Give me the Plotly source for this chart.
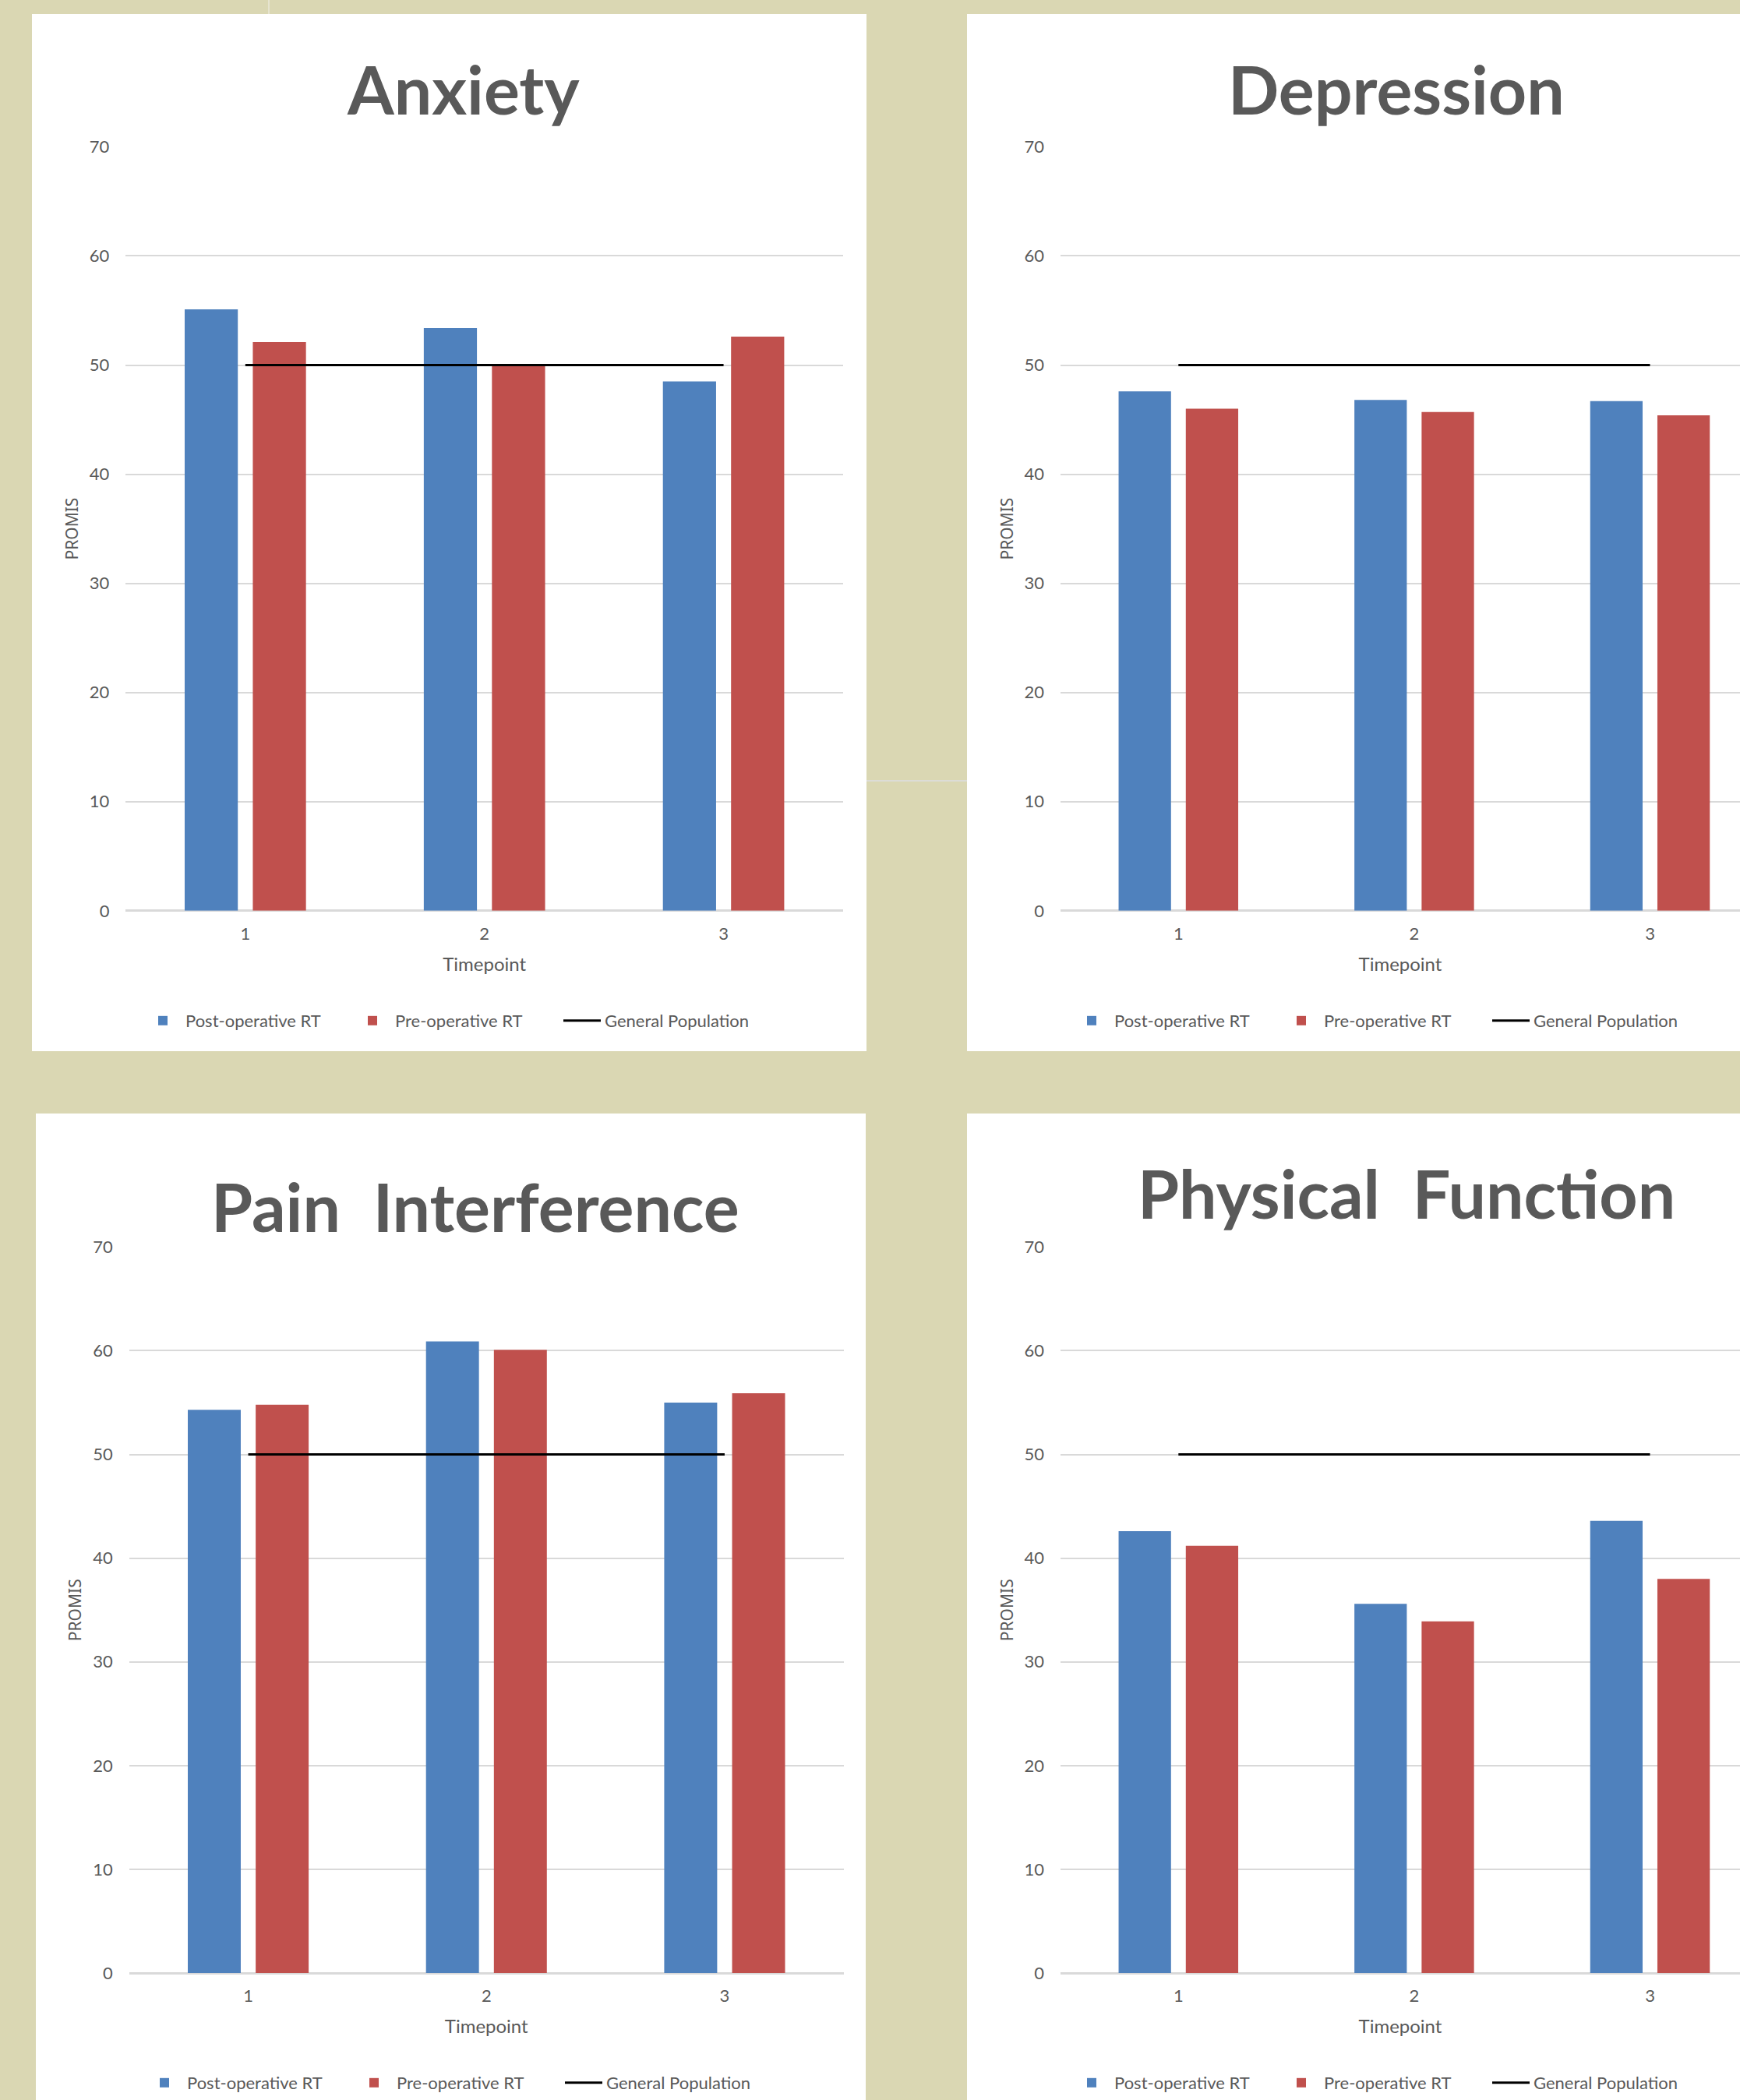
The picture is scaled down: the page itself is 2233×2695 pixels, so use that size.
import plotly.graph_objects as go

W, H = 2233, 2695

# ---------------- data ----------------
timepoints = [1, 2, 3]
tick_labels = ["1", "2", "3"]
series_names = ["Post-operative RT", "Pre-operative RT", "General Population"]

anxiety_post = [55.1, 53.4, 48.5]
anxiety_pre = [52.1, 50.0, 52.6]
depression_post = [47.6, 46.8, 46.7]
depression_pre = [46.0, 45.7, 45.4]
pain_post = [54.3, 60.9, 55.0]
pain_pre = [54.8, 60.1, 55.9]
physical_post = [42.6, 35.6, 43.6]
physical_pre = [41.2, 33.9, 38.0]
general_population = [50, 50, 50]

panel_titles = ["Anxiety", "Depression", "Pain  Interference", "Physical  Function"]
y_ticks = [0, 10, 20, 30, 40, 50, 60, 70]
x_title = "Timepoint"
y_title = "PROMIS"

# ---------------- style ----------------
BG = "#DAD7B3"
BLUE = "#4F81BD"
RED = "#C0504D"
TXT = "#595959"
GRID = "#D9D9D9"
FONT = "Lato"


def px(x):
    return x / W


def py(y):
    return 1 - y / H


# pixel geometry of each panel (white box, plot area, title, legend start)
panels = [
    dict(box=(41, 18, 1112, 1349), plot_x=(161.4, 1082.0), plot_y=(188.4, 1168.8),
         xr=[0.5, 3.5], title_xy=(594, 113), legend_xy=(180, 1310),
         post=anxiety_post, pre=anxiety_pre),
    dict(box=(1241, 18, 2233, 1349), plot_x=(1361.0, 2233.0), plot_y=(188.4, 1168.8),
         xr=[0.5, 0.5 + (2233 - 1361.0) / 302.6], title_xy=(1792, 113), legend_xy=(1372, 1310),
         post=depression_post, pre=depression_pre),
    dict(box=(46, 1429, 1111, 2695), plot_x=(165.7, 1082.8), plot_y=(1600.4, 2532.0),
         xr=[0.5, 3.5], title_xy=(610, 1547), legend_xy=(182, 2673),
         post=pain_post, pre=pain_pre),
    dict(box=(1241, 1429, 2233, 2695), plot_x=(1361.0, 2233.0), plot_y=(1600.4, 2532.0),
         xr=[0.5, 0.5 + (2233 - 1361.0) / 302.6], title_xy=(1805, 1530), legend_xy=(1372, 2673),
         post=physical_post, pre=physical_pre),
]

fig = go.Figure()
shapes = []
annotations = []
layout_axes = {}

for i, p in enumerate(panels):
    k = i + 1
    xa = "x" if k == 1 else f"x{k}"
    ya = "y" if k == 1 else f"y{k}"
    lg = "legend" if k == 1 else f"legend{k}"

    x0, y0, x1, y1 = p["box"]
    shapes.append(dict(type="rect", xref="paper", yref="paper",
                       x0=px(x0), x1=px(x1), y0=py(y1), y1=py(y0),
                       fillcolor="white", line=dict(width=0), layer="below"))

    fig.add_trace(go.Bar(x=timepoints, y=p["post"], name=series_names[0],
                         marker=dict(color=BLUE, line=dict(width=0)),
                         xaxis=xa, yaxis=ya, legend=lg))
    fig.add_trace(go.Bar(x=timepoints, y=p["pre"], name=series_names[1],
                         marker=dict(color=RED, line=dict(width=0)),
                         xaxis=xa, yaxis=ya, legend=lg))
    fig.add_trace(go.Scatter(x=timepoints, y=general_population, name=series_names[2],
                             mode="lines", line=dict(color="black", width=3),
                             xaxis=xa, yaxis=ya, legend=lg))

    xkey = "xaxis" if k == 1 else f"xaxis{k}"
    ykey = "yaxis" if k == 1 else f"yaxis{k}"
    layout_axes[xkey] = dict(
        domain=[px(p["plot_x"][0]), px(p["plot_x"][1])],
        anchor=ya, range=p["xr"], tickmode="array", tickvals=timepoints,
        ticktext=tick_labels, showgrid=False, zeroline=False, showline=False,
        ticks="", ticklabelstandoff=14, automargin=False,
        tickfont=dict(family=FONT, size=22, color=TXT),
        title=dict(text=x_title, font=dict(family=FONT, size=24, color=TXT), standoff=19),
    )
    layout_axes[ykey] = dict(
        domain=[py(p["plot_y"][1]), py(p["plot_y"][0])],
        anchor=xa, range=[0, 70], tickmode="array", tickvals=y_ticks,
        showgrid=True, gridcolor=GRID, gridwidth=2,
        zeroline=True, zerolinecolor=GRID, zerolinewidth=3, showline=False,
        ticks="", ticklabelstandoff=20, automargin=False,
        tickfont=dict(family=FONT, size=22, color=TXT),
        title=dict(text=y_title, font=dict(family="Noto Sans", size=21, color=TXT), standoff=8),
    )

    tx, ty = p["title_xy"]
    annotations.append(dict(text=f"<b>{panel_titles[i]}</b>", xref="paper", yref="paper",
                            x=px(tx), y=py(ty), xanchor="center", yanchor="middle",
                            showarrow=False, font=dict(family=FONT, size=86, color=TXT)))

    lx, ly = p["legend_xy"]
    layout_axes[lg] = dict(orientation="h", x=px(lx), y=py(ly), xanchor="left",
                           yanchor="middle", bgcolor="rgba(0,0,0,0)",
                           font=dict(family=FONT, size=22, color=TXT),
                           itemwidth=48, entrywidth=206, entrywidthmode="pixels",
                           traceorder="normal")

# faint background artefacts of the original slide
shapes.append(dict(type="line", xref="paper", yref="paper", x0=px(345), x1=px(345),
                   y0=py(0), y1=py(18), line=dict(color="#E6E4CF", width=2), layer="below"))
shapes.append(dict(type="line", xref="paper", yref="paper", x0=px(1112), x1=px(1241),
                   y0=py(1002), y1=py(1002), line=dict(color="#DCDCD6", width=2), layer="below"))

fig.update_layout(
    width=W, height=H, margin=dict(l=0, r=0, t=0, b=0, autoexpand=False),
    paper_bgcolor=BG, plot_bgcolor="rgba(0,0,0,0)",
    barmode="group", bargap=0.43, bargroupgap=0.22,
    shapes=shapes, annotations=annotations, showlegend=True,
    **layout_axes,
)

fig.write_html("out.html", config=dict(displayModeBar=False))
